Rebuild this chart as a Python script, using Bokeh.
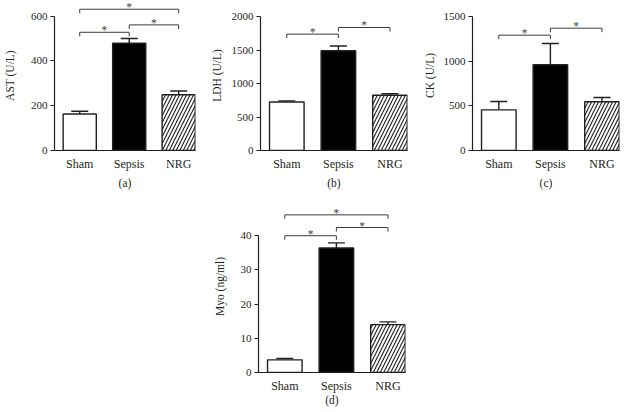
from bokeh.plotting import figure
from bokeh.models import (ColumnDataSource, Range1d, FixedTicker, Whisker, TeeHead, Spacer)
from bokeh.layouts import row, column
from bokeh.embed import file_html
from bokeh.resources import INLINE
from bokeh.core.properties import value

# ---------------- data ----------------
categories = ["Sham", "Sepsis", "NRG"]

ast_mean = [163, 479, 249]
ast_err = [12, 21, 17]
ast_ticks = [0, 200, 400, 600]
ast_sig = [(0, 1, 528), (1, 2, 561), (0, 2, 631)]

ldh_mean = [725, 1490, 825]
ldh_err = [15, 70, 22]
ldh_ticks = [0, 500, 1000, 1500, 2000]
ldh_sig = [(0, 1, 1737), (1, 2, 1836)]

ck_mean = [455, 959, 545]
ck_err = [93, 238, 48]
ck_ticks = [0, 500, 1000, 1500]
ck_sig = [(0, 1, 1291), (1, 2, 1369)]

myo_mean = [3.7, 36.4, 14.0]
myo_err = [0.4, 1.5, 0.8]
myo_ticks = [0, 10, 20, 30, 40]
myo_sig = [(0, 1, 40.0), (1, 2, 42.4), (0, 2, 46.1)]

FONT = "Liberation Serif"
INK = "#231f20"


def make_panel(means, errs, ticks, sig, ylabel, sublabel, ytop,
               width, height, mb_left, mb_right, mb_top, mb_bottom,
               ylab_standoff, sub_standoff):
    xs = [i + 1 for i in range(len(categories))]
    p = figure(width=width, height=height, output_backend="svg", toolbar_location=None,
               x_range=Range1d(0.49, 3.34), y_range=Range1d(0, ytop),
               min_border_left=mb_left, min_border_right=mb_right,
               min_border_top=mb_top, min_border_bottom=mb_bottom)
    p.outline_line_color = None
    p.grid.visible = False
    p.background_fill_color = "white"
    p.border_fill_color = "white"

    fills = ["white", "black", "white"]
    hatches = [" ", " ", "/"]
    src = ColumnDataSource(dict(x=xs, mean=means,
                                top=[m + e for m, e in zip(means, errs)],
                                fill=fills, hatch=hatches))
    p.vbar(x="x", top="mean", bottom=0, width=0.67, source=src,
           fill_color="fill", line_color=INK, line_width=1.4,
           hatch_pattern="hatch", hatch_color=INK, hatch_scale=7, hatch_weight=1.1)
    w = Whisker(source=src, base="x", lower="mean", upper="top", dimension="height",
                lower_head=None,
                upper_head=TeeHead(size=17, line_width=1.4, line_color=INK),
                line_width=1.4, line_color=INK)
    p.add_layout(w)

    frame_h = height - mb_top - mb_bottom
    leg = 4.0 * ytop / frame_h
    bx, by, sx, sy = [], [], [], []
    for i, j, h in sig:
        bx.append([xs[i], xs[i], xs[j], xs[j]])
        by.append([h - leg, h, h, h - leg])
        sx.append((xs[i] + xs[j]) / 2)
        sy.append(h)
    p.multi_line(xs=bx, ys=by, line_color="#3a3a3a", line_width=1)
    p.text(x=sx, y=sy, text=["*"] * len(sx), y_offset=-8,
           text_align="center", text_baseline="top",
           text_font=value(FONT), text_font_size="11.5px", text_color="#444444")

    ya = p.yaxis[0]
    ya.ticker = FixedTicker(ticks=ticks)
    ya.bounds = (0, ticks[-1])
    ya.axis_label = ylabel
    ya.axis_label_text_font = FONT
    ya.axis_label_text_font_style = "normal"
    ya.axis_label_text_font_size = "11.5px"
    ya.axis_label_text_color = INK
    ya.axis_label_standoff = ylab_standoff
    ya.major_label_text_font = FONT
    ya.major_label_text_font_size = "11px"
    ya.major_label_text_color = INK
    ya.major_label_standoff = 3
    ya.major_tick_out = 4
    ya.major_tick_in = 0
    ya.minor_tick_line_color = None
    ya.axis_line_color = INK
    ya.axis_line_width = 1.2
    ya.major_tick_line_color = INK
    ya.major_tick_line_width = 1.2

    xa = p.xaxis[0]
    xa.ticker = FixedTicker(ticks=xs)
    xa.major_label_overrides = {x: c for x, c in zip(xs, categories)}
    xa.axis_label = sublabel
    xa.axis_label_text_font = FONT
    xa.axis_label_text_font_style = "normal"
    xa.axis_label_text_font_size = "11.5px"
    xa.axis_label_text_color = INK
    xa.axis_label_standoff = sub_standoff
    xa.major_label_text_font = FONT
    xa.major_label_text_font_size = "12px"
    xa.major_label_text_color = INK
    xa.major_label_standoff = 6
    xa.major_tick_line_color = None
    xa.major_tick_out = 0
    xa.minor_tick_line_color = None
    xa.axis_line_color = INK
    xa.axis_line_width = 1.2
    return p


pa = make_panel(ast_mean, ast_err, ast_ticks, ast_sig, "AST (U/L)", "(a)", 670,
                205, 195, 47, 10, 0, 45, 12, 3)
pb = make_panel(ldh_mean, ldh_err, ldh_ticks, ldh_sig, "LDH (U/L)", "(b)", 2239,
                207, 195, 55, 5, 0, 45, 6, 3)
pc = make_panel(ck_mean, ck_err, ck_ticks, ck_sig, "CK (U/L)", "(c)", 1679,
                211, 195, 60, 4, 0, 45, 5, 3)
pd = make_panel(myo_mean, myo_err, myo_ticks, myo_sig, "Myo (ng/ml)", "(d)", 50.3,
                215, 217, 58, 10, 5, 40, 12, -2)

layout = column(row(pa, pb, pc), row(Spacer(width=200, height=217), pd))

open("out.html", "w").write(file_html(layout, INLINE))
